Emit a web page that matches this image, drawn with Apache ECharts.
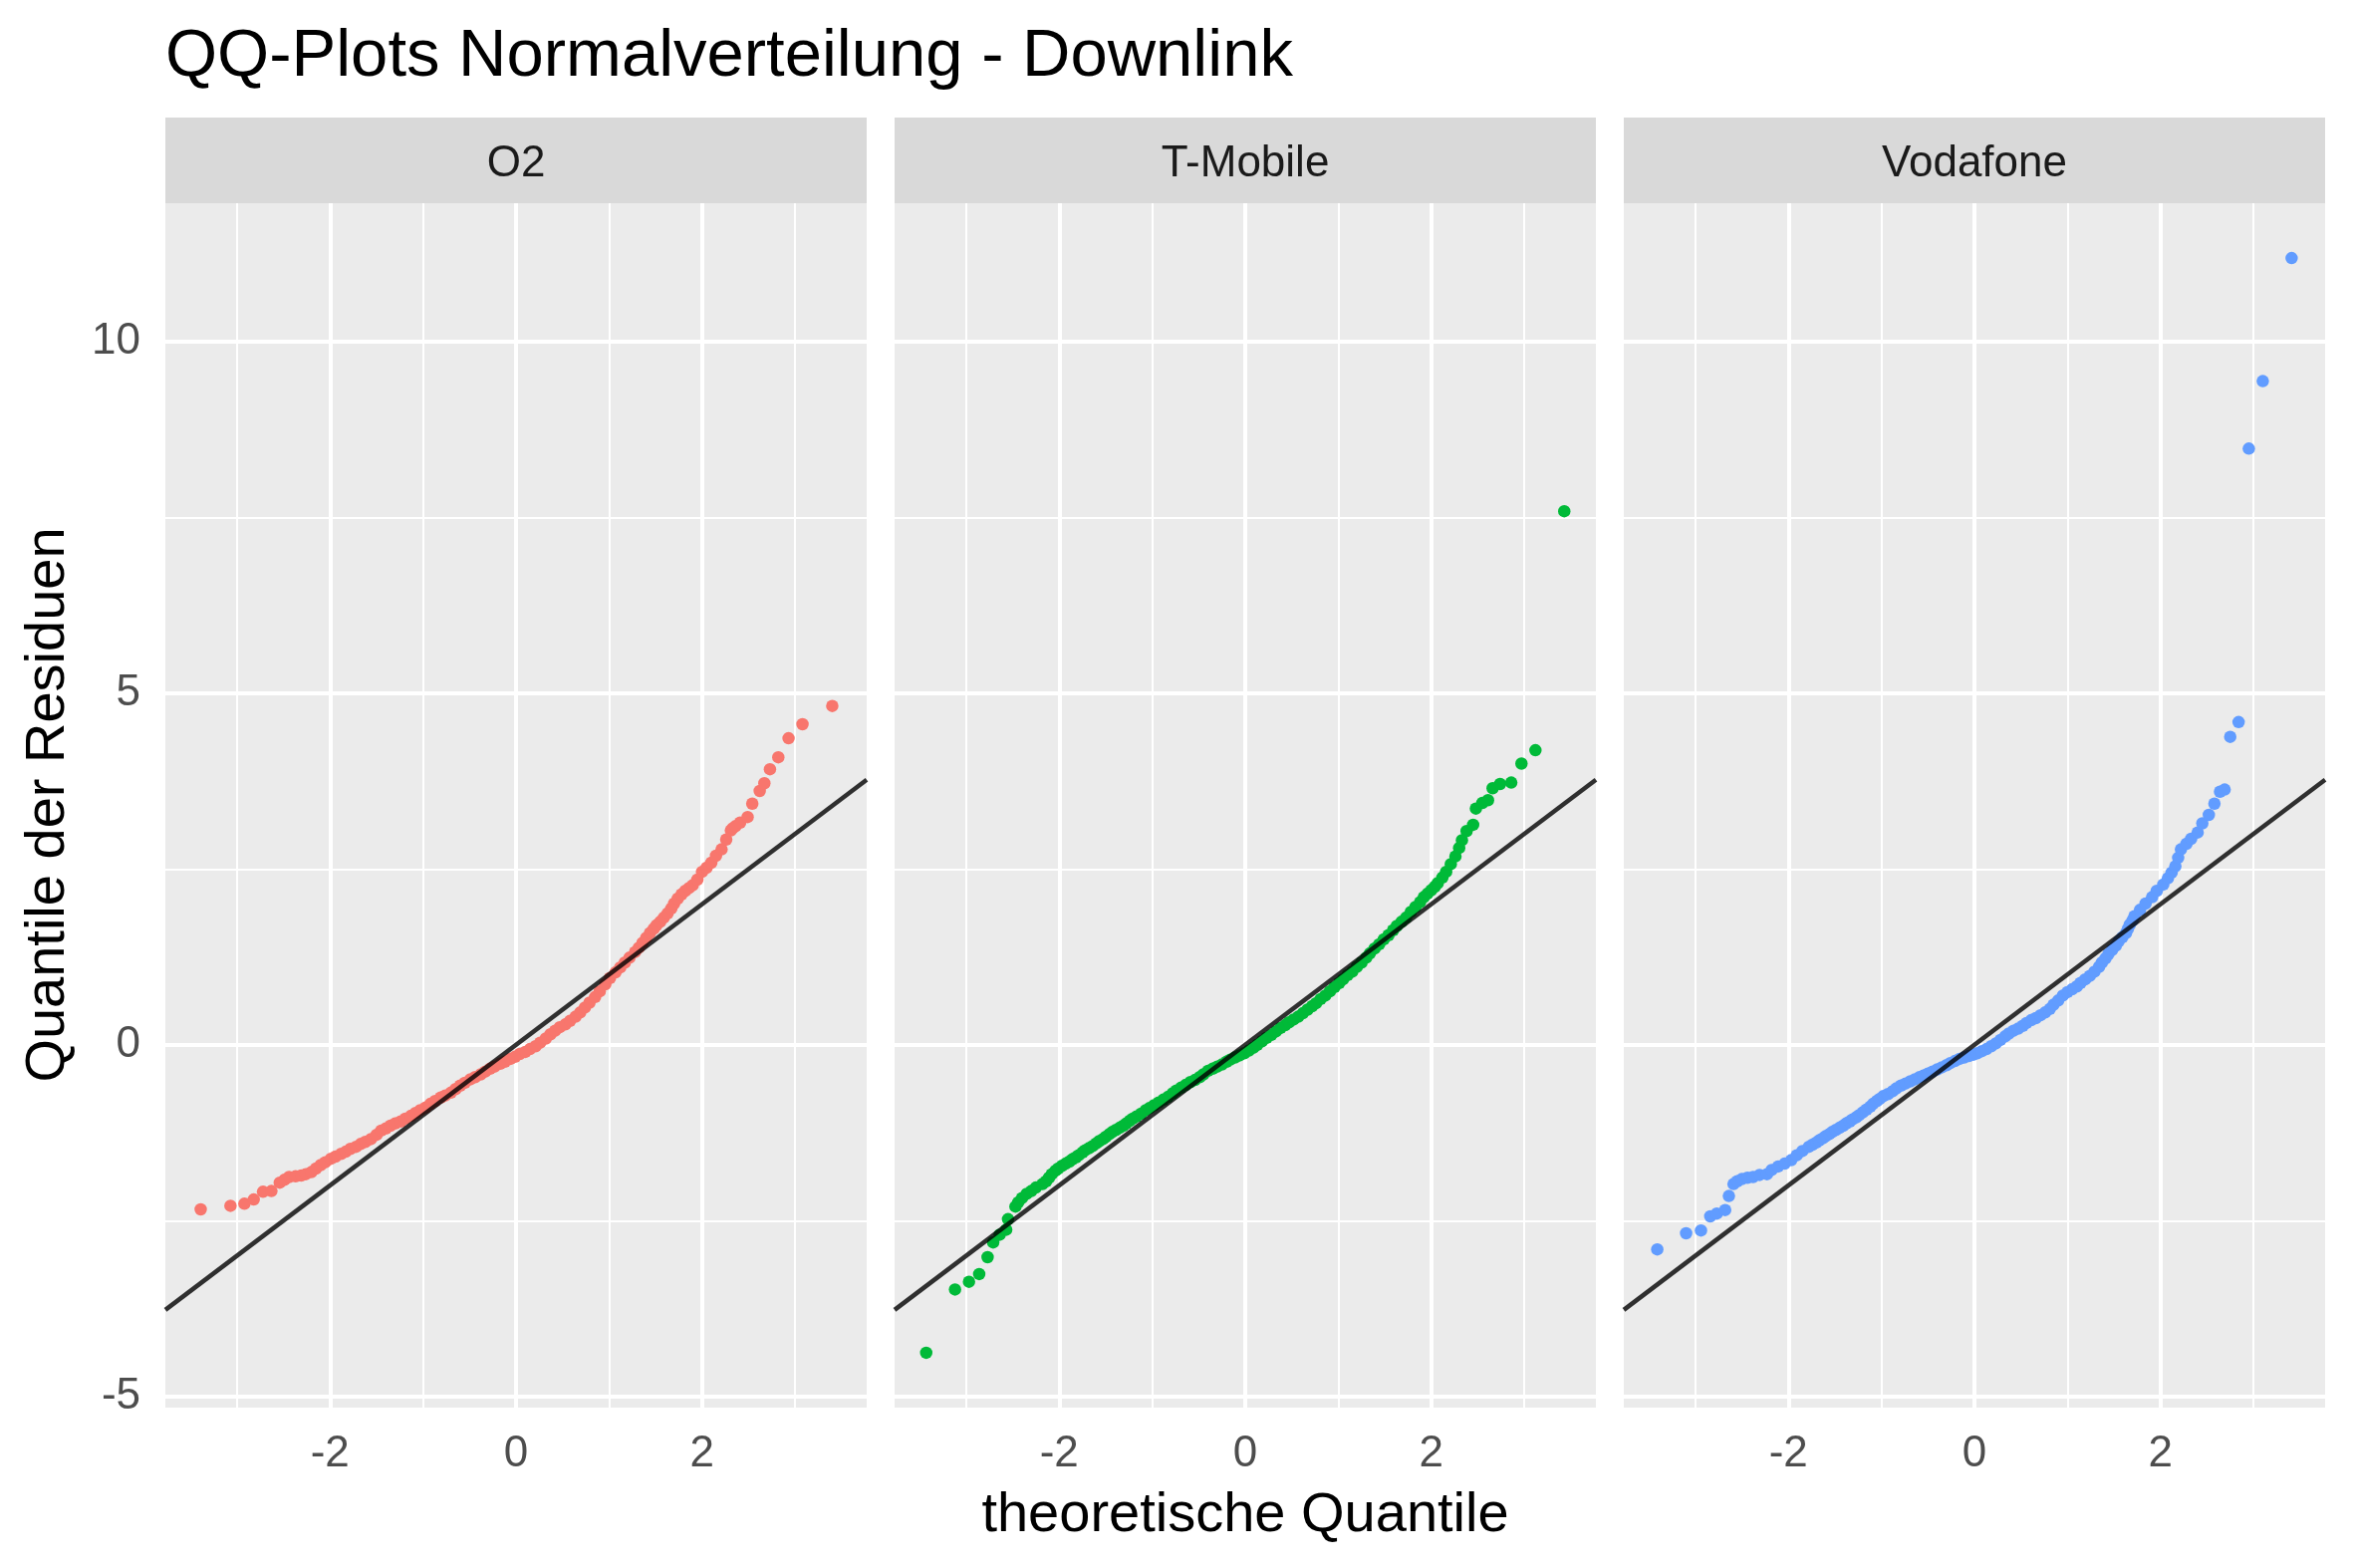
<!DOCTYPE html>
<html>
<head>
<meta charset="utf-8">
<script src="https://cdn.jsdelivr.net/npm/echarts@6/dist/echarts.min.js"></script>
<style>
  html, body { margin: 0; padding: 0; background: #ffffff; }
  #chart { width: 2362px; height: 1574px; }
</style>
</head>
<body>
<div id="chart"></div>
<script>
// facet names and colours
const panels = ['O2', 'T-Mobile', 'Vodafone'];
const colors = ['#F8766D', '#00BA38', '#619CFF'];

// [theoretical quantile, residual quantile]
const o2Points = [
    [-3.39, -2.34], [-3.07, -2.29], [-2.92, -2.26], [-2.82, -2.20], [-2.72, -2.09], [-2.63, -2.08],
    [-2.54, -1.96], [-2.49, -1.92], [-2.44, -1.88], [-2.37, -1.87], [-2.31, -1.86], [-2.26, -1.84],
    [-2.20, -1.81], [-2.15, -1.76], [-2.10, -1.71], [-2.05, -1.67], [-1.99, -1.62], [-1.94, -1.59],
    [-1.88, -1.55], [-1.83, -1.52], [-1.78, -1.48], [-1.72, -1.45], [-1.67, -1.41], [-1.62, -1.38],
    [-1.56, -1.34], [-1.50, -1.28], [-1.45, -1.22], [-1.40, -1.19], [-1.35, -1.15], [-1.30, -1.12],
    [-1.24, -1.09], [-1.19, -1.05], [-1.13, -1.01], [-1.08, -0.97], [-1.03, -0.93], [-0.97, -0.89],
    [-0.92, -0.84], [-0.87, -0.80], [-0.81, -0.75], [-0.76, -0.72], [-0.70, -0.68], [-0.65, -0.63],
    [-0.60, -0.58], [-0.55, -0.54], [-0.49, -0.49], [-0.44, -0.46], [-0.38, -0.42], [-0.33, -0.38],
    [-0.28, -0.34], [-0.23, -0.31], [-0.17, -0.27], [-0.12, -0.24], [-0.06, -0.20], [-0.01, -0.17],
    [0.04, -0.13], [0.10, -0.10], [0.15, -0.06], [0.21, -0.02], [0.26, 0.03], [0.32, 0.09],
    [0.37, 0.15], [0.42, 0.20], [0.47, 0.25], [0.53, 0.29], [0.58, 0.34], [0.64, 0.40],
    [0.69, 0.46], [0.74, 0.53], [0.79, 0.60], [0.85, 0.68], [0.90, 0.76], [0.96, 0.86],
    [1.01, 0.95], [1.07, 1.03], [1.12, 1.10], [1.17, 1.17], [1.22, 1.24], [1.28, 1.32],
    [1.32, 1.38], [1.36, 1.45], [1.40, 1.52], [1.44, 1.59], [1.48, 1.65], [1.51, 1.70],
    [1.55, 1.75], [1.59, 1.81], [1.63, 1.87], [1.67, 1.94], [1.70, 2.01], [1.74, 2.08],
    [1.78, 2.14], [1.82, 2.19], [1.86, 2.23], [1.90, 2.27], [1.95, 2.35], [2.00, 2.46],
    [2.05, 2.52], [2.10, 2.59], [2.15, 2.69], [2.21, 2.78], [2.26, 2.92], [2.31, 3.05],
    [2.33, 3.08], [2.36, 3.11], [2.41, 3.16], [2.49, 3.24], [2.54, 3.43], [2.62, 3.61],
    [2.67, 3.72], [2.73, 3.92], [2.82, 4.09], [2.93, 4.36], [3.08, 4.56], [3.40, 4.82]
];

const tmoPoints = [
    [-3.43, -4.38], [-3.12, -3.48], [-2.97, -3.37], [-2.86, -3.26], [-2.77, -3.02], [-2.71, -2.81],
    [-2.64, -2.70], [-2.57, -2.63], [-2.55, -2.48], [-2.47, -2.30], [-2.44, -2.24], [-2.40, -2.18],
    [-2.35, -2.12], [-2.30, -2.08], [-2.25, -2.03], [-2.18, -1.98], [-2.14, -1.94], [-2.11, -1.89],
    [-2.08, -1.84], [-2.04, -1.79], [-2.01, -1.76], [-1.97, -1.72], [-1.93, -1.69], [-1.89, -1.66],
    [-1.86, -1.63], [-1.82, -1.60], [-1.79, -1.57], [-1.75, -1.53], [-1.72, -1.50], [-1.68, -1.47],
    [-1.64, -1.44], [-1.60, -1.40], [-1.57, -1.37], [-1.53, -1.34], [-1.50, -1.31], [-1.46, -1.27],
    [-1.43, -1.24], [-1.39, -1.21], [-1.35, -1.18], [-1.31, -1.15], [-1.28, -1.12], [-1.24, -1.08],
    [-1.21, -1.05], [-1.17, -1.02], [-1.12, -0.98], [-1.07, -0.93], [-1.03, -0.90], [-0.98, -0.86],
    [-0.93, -0.82], [-0.88, -0.78], [-0.83, -0.74], [-0.78, -0.69], [-0.74, -0.65], [-0.69, -0.61],
    [-0.64, -0.57], [-0.59, -0.53], [-0.54, -0.50], [-0.49, -0.46], [-0.45, -0.42], [-0.40, -0.37],
    [-0.35, -0.34], [-0.30, -0.31], [-0.25, -0.28], [-0.20, -0.24], [-0.16, -0.21], [-0.11, -0.18],
    [-0.06, -0.15], [-0.01, -0.12], [0.04, -0.08], [0.09, -0.04], [0.13, 0.00], [0.18, 0.05],
    [0.23, 0.10], [0.28, 0.14], [0.33, 0.19], [0.38, 0.24], [0.43, 0.28], [0.47, 0.32],
    [0.52, 0.36], [0.57, 0.40], [0.62, 0.45], [0.67, 0.50], [0.72, 0.55], [0.76, 0.59],
    [0.81, 0.65], [0.86, 0.70], [0.91, 0.76], [0.96, 0.82], [1.01, 0.88], [1.05, 0.93],
    [1.10, 0.99], [1.15, 1.04], [1.20, 1.11], [1.25, 1.17], [1.30, 1.24], [1.34, 1.30],
    [1.39, 1.37], [1.44, 1.43], [1.49, 1.50], [1.54, 1.56], [1.59, 1.63], [1.63, 1.69],
    [1.68, 1.75], [1.73, 1.81], [1.78, 1.89], [1.83, 1.96], [1.88, 2.03], [1.92, 2.10],
    [1.96, 2.15], [2.00, 2.20], [2.04, 2.25], [2.07, 2.30], [2.12, 2.38], [2.16, 2.46],
    [2.21, 2.57], [2.26, 2.68], [2.30, 2.80], [2.33, 2.91], [2.38, 3.04], [2.45, 3.13],
    [2.48, 3.36], [2.55, 3.44], [2.61, 3.48], [2.66, 3.65], [2.74, 3.71], [2.86, 3.73],
    [2.97, 4.00], [3.12, 4.19], [3.43, 7.59]
];

const vodPoints = [
    [-3.41, -2.91], [-3.10, -2.68], [-2.94, -2.64], [-2.84, -2.44], [-2.77, -2.40], [-2.68, -2.35],
    [-2.64, -2.15], [-2.59, -1.98], [-2.55, -1.94], [-2.50, -1.91], [-2.44, -1.89], [-2.38, -1.88],
    [-2.31, -1.85], [-2.23, -1.84], [-2.18, -1.78], [-2.11, -1.73], [-2.04, -1.69], [-1.97, -1.64],
    [-1.91, -1.57], [-1.85, -1.51], [-1.78, -1.45], [-1.74, -1.42], [-1.70, -1.39], [-1.67, -1.36],
    [-1.63, -1.33], [-1.60, -1.30], [-1.56, -1.27], [-1.53, -1.24], [-1.49, -1.21], [-1.45, -1.18],
    [-1.41, -1.15], [-1.38, -1.12], [-1.34, -1.09], [-1.31, -1.06], [-1.27, -1.03], [-1.24, -1.00],
    [-1.20, -0.96], [-1.16, -0.92], [-1.12, -0.88], [-1.09, -0.84], [-1.05, -0.80], [-1.02, -0.77],
    [-0.98, -0.73], [-0.93, -0.70], [-0.88, -0.66], [-0.84, -0.62], [-0.79, -0.58], [-0.74, -0.55],
    [-0.69, -0.52], [-0.64, -0.49], [-0.59, -0.46], [-0.55, -0.44], [-0.50, -0.41], [-0.45, -0.38],
    [-0.40, -0.35], [-0.35, -0.32], [-0.30, -0.29], [-0.26, -0.26], [-0.21, -0.23], [-0.16, -0.20],
    [-0.11, -0.18], [-0.06, -0.16], [-0.01, -0.14], [0.03, -0.12], [0.08, -0.09], [0.13, -0.06],
    [0.18, -0.02], [0.23, 0.02], [0.28, 0.07], [0.33, 0.12], [0.37, 0.16], [0.42, 0.20],
    [0.47, 0.23], [0.52, 0.27], [0.56, 0.31], [0.61, 0.35], [0.66, 0.38], [0.71, 0.42],
    [0.76, 0.46], [0.81, 0.51], [0.85, 0.57], [0.90, 0.63], [0.95, 0.70], [1.00, 0.75],
    [1.05, 0.79], [1.10, 0.83], [1.14, 0.88], [1.19, 0.93], [1.24, 0.98], [1.29, 1.04],
    [1.34, 1.11], [1.37, 1.17], [1.41, 1.23], [1.44, 1.29], [1.48, 1.35], [1.52, 1.41],
    [1.55, 1.47], [1.59, 1.53], [1.63, 1.59], [1.65, 1.65], [1.67, 1.71], [1.70, 1.77],
    [1.72, 1.83], [1.78, 1.92], [1.84, 2.01], [1.91, 2.10], [1.96, 2.19], [2.03, 2.28],
    [2.08, 2.37], [2.12, 2.45], [2.16, 2.54], [2.19, 2.66], [2.22, 2.78], [2.28, 2.86],
    [2.33, 2.93], [2.40, 3.02], [2.45, 3.15], [2.52, 3.27], [2.58, 3.43], [2.64, 3.60],
    [2.69, 3.63], [2.75, 4.38], [2.84, 4.59], [2.95, 8.48], [3.10, 9.44], [3.41, 11.19]
];

// reference line (same in all facets)
const refLine = [[-3.77, -3.77], [3.77, 3.77]];

// ticks and grid lines
const xTicks = [-2, 0, 2];
const xMinor = [-3, -1, 1, 3];
const yTicks = [-5, 0, 5, 10];
const yMinor = [-2.5, 2.5, 7.5];

const points = [o2Points, tmoPoints, vodPoints];

const font = '"Liberation Sans", Arial, sans-serif';
const gridLefts = [166, 898, 1630];
const gridTop = 204, gridW = 704, gridH = 1209;
const stripTop = 118, stripH = 86;

let myChart = echarts.init(document.getElementById('chart'), null, { renderer: 'canvas' });

let grids = [], xAxes = [], yAxes = [], series = [], graphics = [];

panels.forEach((name, i) => {
    grids.push({
        left: gridLefts[i], top: gridTop, width: gridW, height: gridH,
        show: true, backgroundColor: '#EBEBEB', borderWidth: 0
    });
    xAxes.push({
        gridIndex: i, type: 'value', min: -3.77, max: 3.77,
        axisLine: { show: false },
        axisTick: { show: true, customValues: xTicks, length: 14, lineStyle: { color: '#333333', width: 3.5 } },
        axisLabel: { customValues: xTicks, fontSize: 44, color: '#4D4D4D', margin: 25, fontFamily: font },
        splitLine: { show: false }
    });
    yAxes.push({
        gridIndex: i, type: 'value', min: -5.16, max: 11.97,
        axisLine: { show: false },
        axisTick: { show: i === 0, customValues: yTicks, length: 14, lineStyle: { color: '#333333', width: 3.5 } },
        axisLabel: { show: i === 0, customValues: yTicks, fontSize: 44, color: '#4D4D4D', margin: 25, fontFamily: font },
        splitLine: { show: false }
    });

    let gridLines = [];
    xMinor.forEach(v => gridLines.push({ xAxis: v, lineStyle: { width: 2 } }));
    yMinor.forEach(v => gridLines.push({ yAxis: v, lineStyle: { width: 2 } }));
    xTicks.forEach(v => gridLines.push({ xAxis: v, lineStyle: { width: 4 } }));
    yTicks.forEach(v => gridLines.push({ yAxis: v, lineStyle: { width: 4 } }));

    series.push({
        type: 'scatter', name: name, xAxisIndex: i, yAxisIndex: i,
        data: points[i],
        symbol: 'circle', symbolSize: 12.5,
        itemStyle: { color: colors[i], opacity: 1 },
        z: 3, silent: true
    });
    series.push({
        type: 'line', xAxisIndex: i, yAxisIndex: i,
        data: refLine,
        symbol: 'none', z: 4, silent: true,
        lineStyle: { color: '#000000', opacity: 0.8, width: 4.5 },
        markLine: {
            silent: true, z: 1, symbol: ['none', 'none'], animation: false,
            label: { show: false },
            lineStyle: { color: '#FFFFFF', type: 'solid' },
            emphasis: { disabled: true },
            data: gridLines
        }
    });

    // facet strip
    graphics.push({
        type: 'rect', shape: { x: gridLefts[i], y: stripTop, width: gridW, height: stripH },
        style: { fill: '#D9D9D9' }, silent: true
    });
    graphics.push({
        type: 'text', x: gridLefts[i] + gridW / 2, y: stripTop + stripH / 2 + 4,
        style: { text: name, fill: '#1A1A1A', font: '44px ' + font, align: 'center', verticalAlign: 'middle' },
        silent: true
    });
});

graphics.push({
    type: 'text', x: 166, y: 58,
    style: { text: 'QQ-Plots Normalverteilung - Downlink', fill: '#000000', font: '67px ' + font, align: 'left', verticalAlign: 'middle' }
});
graphics.push({
    type: 'text', x: 1250, y: 1522,
    style: { text: 'theoretische Quantile', fill: '#000000', font: '56px ' + font, align: 'center', verticalAlign: 'middle' }
});
graphics.push({
    type: 'text', x: 49, y: 808, rotation: Math.PI / 2,
    style: { text: 'Quantile der Residuen', fill: '#000000', font: '56px ' + font, align: 'center', verticalAlign: 'middle' }
});

let option = {
    backgroundColor: '#FFFFFF',
    animation: false,
    grid: grids,
    xAxis: xAxes,
    yAxis: yAxes,
    series: series,
    graphic: graphics
};

option && myChart.setOption(option);
</script>
</body>
</html>
